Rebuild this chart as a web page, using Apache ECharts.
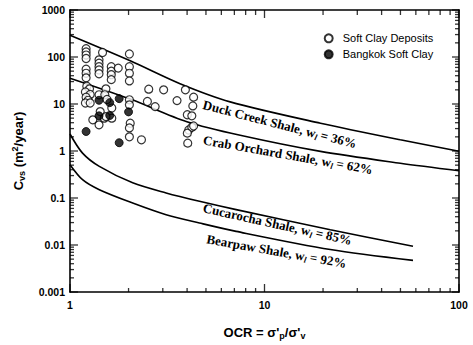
<!DOCTYPE html>
<html><head><meta charset="utf-8">
<script src="https://cdn.jsdelivr.net/npm/echarts@6/dist/echarts.min.js"></script>
<style>html,body{margin:0;padding:0;background:#fff}#c{width:473px;height:345px}</style>
</head><body><div id="c"></div>
<script>
// ---- data (OCR, Cvs m2/year) ----
const softClay = [
  [1.21,150],[1.21,128],[1.21,110],[1.21,93],
  [1.21,55],[1.21,45],[1.21,36],
  [1.22,24],[1.26,21],[1.2,18],[1.27,16],[1.21,14],[1.24,12],[1.2,10.5],[1.27,10.5],
  [1.31,4.6],
  [1.41,87],[1.41,74],[1.41,62],[1.41,53],[1.41,44],[1.47,125],
  [1.41,15.7],[1.43,6.9],[1.41,3.6],[1.5,5.0],
  [1.53,21],[1.51,15.7],[1.55,12.5],[1.64,8.2],[1.64,5.0],[1.53,5.4],
  [1.63,62],[1.63,50],[1.63,42],[1.63,33],
  [1.77,58],
  [2.02,116],[2.02,62],[2.02,45],[2.02,31],[2.02,12.3],[2.02,9.6],[2.04,3.9],[2.02,3.1],[2.02,2.0],
  [2.33,1.73],
  [2.54,20.7],[2.5,11.3],[2.74,8.8],[3.03,20],[3.55,11.8],
  [3.92,20],[4.32,14],[4.28,9.1],[4.01,5.9],[4.23,5.6],[4.08,2.8],[4.23,3.2],[4.32,3.4],[4.01,2.4],[4.03,1.47]
];
const bangkok = [
  [1.21,2.6],[1.41,12],[1.41,5.6],[1.6,10.7],[1.6,5.7],[1.79,13],[2.0,6.8],[1.79,1.5]
];
const duckCreek = [[1,290],[2.04,83],[3.68,27],[6.66,11.1],[19.4,3.9],[49.9,1.73],[100,0.99]];
const crabOrchard = [[1,35.4],[2.04,12.7],[3.99,4.2],[7.5,2.16],[19.4,0.98],[49.9,0.55],[100,0.38]];
const cucaracha = [[1,2.3],[1.16,0.9],[1.415,0.47],[2.1,0.21],[3.12,0.128],[4.63,0.085],[7.15,0.0565],[21.8,0.0212],[58,0.0094]];
const bearpaw = [[1,0.51],[1.16,0.245],[1.415,0.15],[2.1,0.078],[3.12,0.044],[4.63,0.0294],[7.15,0.0195],[21.8,0.008],[58,0.0047]];

const xLabels = [1, 10, 100];
const yLabels = [0.001, 0.01, 0.1, 1, 10, 100, 1000];
const xMinor = [2,3,4,5,6,7,8,9,20,30,40,50,60,70,80,90];
const yMinor = [];
[0.001,0.01,0.1,1,10,100].forEach(d => { for (let k = 2; k <= 9; k++) yMinor.push(d*k); });

const SANS = 'Liberation Sans, Arial, Helvetica, sans-serif';
const SERIF = 'Liberation Serif, Times New Roman, serif';
const black = '#000';
const TW = 1.3; // tick thickness

// tick marks drawn as thin rect symbols placed by the axes' own scales, pushed inside the frame
function tickItems(vals, fixed, isX, len, sign) {
  return vals.map(v => ({
    value: isX ? [v, fixed] : [fixed, v],
    symbolSize: isX ? [TW, len] : [len, TW],
    symbolOffset: isX ? [0, sign * len / 2] : [sign * len / 2, 0]
  }));
}
const tickSeries = (name, data) => ({ name, type: 'scatter', symbol: 'rect', data, clip: false, silent: true,
  itemStyle: { color: black, borderWidth: 0 }, z: 10, tooltip: { show: false } });

const chart = echarts.init(document.getElementById('c'), null, { renderer: 'svg' });
const option = {
  animation: false,
  backgroundColor: '#fff',
  grid: { left: 70, right: 14, top: 10, bottom: 52.5 },
  legend: {
    orient: 'vertical', left: 318.7, top: 27.3,
    itemWidth: 18, itemHeight: 8, itemGap: 4,
    data: ['Soft Clay Deposits', 'Bangkok Soft Clay'],
    textStyle: { fontFamily: SANS, fontSize: 11, color: black, lineHeight: 12 }
  },
  xAxis: [
    { type: 'log', logBase: 10, min: 1, max: 100, position: 'bottom',
      axisLine: { show: true, onZero: false, lineStyle: { color: black, width: 1.6 } },
      splitLine: { show: false }, axisTick: { show: false },
      axisLabel: { show: true, margin: 7, fontFamily: SANS, fontWeight: 'bold', fontSize: 10.5, color: black,
        formatter: v => String(v) },
      name: "{b|OCR = σ'}{s|p}{b|/σ'}{s|v}", nameLocation: 'middle', nameGap: 32,
      nameTextStyle: { rich: {
        b: { fontFamily: SANS, fontWeight: 'bold', fontSize: 13, color: black, lineHeight: 16 },
        s: { fontFamily: SANS, fontWeight: 'bold', fontSize: 9, color: black, lineHeight: 9, verticalAlign: 'bottom' }
      } }
    },
    { type: 'log', logBase: 10, min: 1, max: 100, position: 'top',
      axisLine: { show: true, onZero: false, lineStyle: { color: black, width: 1.6 } },
      splitLine: { show: false }, axisTick: { show: false }, axisLabel: { show: false } }
  ],
  yAxis: [
    { type: 'log', logBase: 10, min: 0.001, max: 1000, position: 'left',
      axisLine: { show: true, onZero: false, lineStyle: { color: black, width: 1.6 } },
      splitLine: { show: false }, axisTick: { show: false },
      axisLabel: { show: true, margin: 5, fontFamily: SANS, fontWeight: 'bold', fontSize: 10.5, color: black,
        formatter: v => String(v) },
      name: '{b|C}{s|vs}{b| (m}{p|2}{b|/year)}', nameLocation: 'middle', nameGap: 44, nameRotate: 90,
      nameTextStyle: { rich: {
        b: { fontFamily: SANS, fontWeight: 'bold', fontSize: 13, color: black, lineHeight: 16 },
        s: { fontFamily: SANS, fontWeight: 'bold', fontSize: 9, color: black, lineHeight: 9, verticalAlign: 'bottom' },
        p: { fontFamily: SANS, fontWeight: 'bold', fontSize: 9, color: black, lineHeight: 9, verticalAlign: 'top' }
      } }
    },
    { type: 'log', logBase: 10, min: 0.001, max: 1000, position: 'right',
      axisLine: { show: true, onZero: false, lineStyle: { color: black, width: 1.6 } },
      splitLine: { show: false }, axisTick: { show: false }, axisLabel: { show: false } }
  ],
  series: [
    { name: 'Duck Creek Shale', type: 'line', data: duckCreek, showSymbol: false, smooth: 0.3,
      lineStyle: { color: black, width: 1.6 }, z: 2, silent: true },
    { name: 'Crab Orchard Shale', type: 'line', data: crabOrchard, showSymbol: false, smooth: 0.3,
      lineStyle: { color: black, width: 1.6 }, z: 2, silent: true },
    { name: 'Cucarocha Shale', type: 'line', data: cucaracha, showSymbol: false, smooth: 0.3,
      lineStyle: { color: black, width: 1.6 }, z: 2, silent: true },
    { name: 'Bearpaw Shale', type: 'line', data: bearpaw, showSymbol: false, smooth: 0.3,
      lineStyle: { color: black, width: 1.6 }, z: 2, silent: true },
    { name: 'Soft Clay Deposits', type: 'scatter', data: softClay, symbol: 'circle', symbolSize: 8,
      itemStyle: { color: '#fff', borderColor: black, borderWidth: 1.2 }, z: 3 },
    { name: 'Bangkok Soft Clay', type: 'scatter', data: bangkok, symbol: 'circle', symbolSize: 8,
      itemStyle: { color: black, borderColor: black, borderWidth: 1 }, z: 4 },
    tickSeries('xTickBottom', tickItems(xLabels, 0.001, true, 8, -1).concat(tickItems(xMinor, 0.001, true, 4, -1))),
    tickSeries('xTickTop', tickItems(xLabels, 1000, true, 8, 1).concat(tickItems(xMinor, 1000, true, 5, 1))),
    tickSeries('yTickLeft', tickItems(yLabels, 1, false, 8, 1).concat(tickItems(yMinor, 1, false, 4, 1))),
    tickSeries('yTickRight', tickItems(yLabels, 100, false, 7, -1).concat(tickItems(yMinor, 100, false, 4, -1)))
  ]
};
chart.setOption(option);

// ---- curve labels anchored in data coordinates ----
const curveLabels = [
  { at: [4.84, 9.8], angle: 14.5, name: 'Duck Creek Shale, w', pct: ' = 36%' },
  { at: [4.84, 1.73], angle: 10, name: 'Crab Orchard Shale, w', pct: ' = 62%' },
  { at: [4.84, 0.0622], angle: 12.5, name: 'Cucarocha Shale, w', pct: ' = 85%' },
  { at: [5.05, 0.0135], angle: 10, name: 'Bearpaw Shale, w', pct: ' = 92%' }
];
const rich = {
  n: { fontFamily: SERIF, fontWeight: 'bold', fontSize: 13, fill: black, lineHeight: 16 },
  s: { fontFamily: SERIF, fontWeight: 'bold', fontStyle: 'italic', fontSize: 8.5, fill: black, lineHeight: 8, verticalAlign: 'bottom' }
};
chart.setOption({
  graphic: curveLabels.map(l => {
    const p = chart.convertToPixel({ gridIndex: 0 }, l.at);
    return { type: 'text', x: p[0], y: p[1], rotation: -l.angle * Math.PI / 180, silent: true, z: 12,
      style: { text: '{n|' + l.name + '}{s|l}{n|' + l.pct + '}', rich: rich, align: 'left', verticalAlign: 'middle', fill: black } };
  })
});
</script></body></html>
